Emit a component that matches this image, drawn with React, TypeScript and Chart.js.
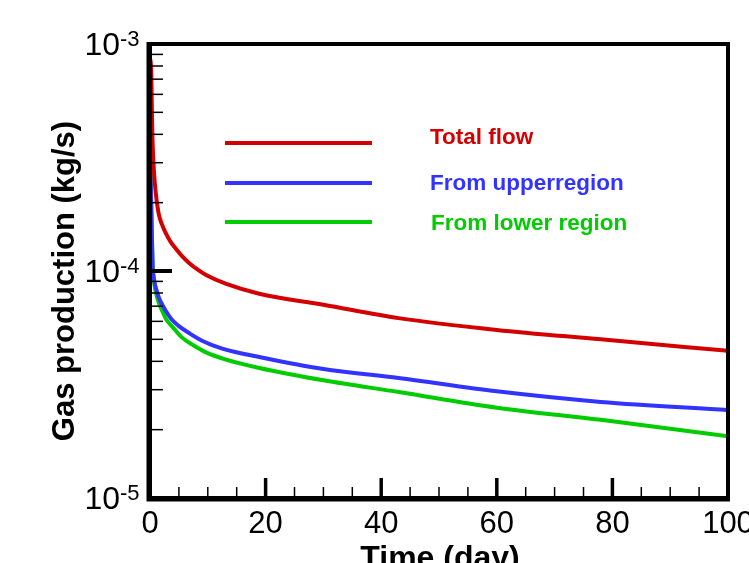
import React, { useEffect, useRef } from "react";
import { Chart, registerables } from "chart.js";

Chart.register(...registerables);

// Time (day) and gas production (kg/s)
const totalT = [0, 0.17, 0.43, 0.7, 1.04, 1.3, 1.56, 2.0, 2.77, 3.6, 4.5, 5.5, 6.76, 8.2, 9.7, 13.2, 18.9, 30, 43, 60, 78, 100];
const totalFlow = [8.6e-4, 8.08e-4, 3.78e-4, 2.7e-4, 2.16e-4, 1.92e-4, 1.76e-4, 1.62e-4, 1.46e-4, 1.34e-4, 1.25e-4, 1.165e-4, 1.085e-4, 1.016e-4, 9.6e-5, 8.77e-5, 7.94e-5, 7.1e-5, 6.2e-5, 5.5e-5, 5.0e-5, 4.45e-5];

const upperT = [0, 0.15, 0.3, 0.45, 0.6, 0.8, 1.0, 1.56, 2.2, 2.77, 3.8, 5.0, 6.76, 9.0, 12.5, 18.9, 30, 43, 60, 78, 100];
const upperFlow = [3.7e-4, 2.3e-4, 1.5e-4, 1.07e-4, 9.6e-5, 8.9e-5, 8.45e-5, 7.6e-5, 7.05e-5, 6.65e-5, 6.1e-5, 5.72e-5, 5.33e-5, 4.93e-5, 4.55e-5, 4.18e-5, 3.7e-5, 3.38e-5, 2.95e-5, 2.65e-5, 2.44e-5];

const lowerT = [0, 0.15, 0.3, 0.45, 0.6, 0.8, 1.04, 1.56, 2.2, 2.77, 4.0, 5.5, 7.5, 9.7, 13.0, 18.9, 30, 43, 60, 78, 100];
const lowerFlow = [3.7e-4, 2.3e-4, 1.5e-4, 1.04e-4, 9.3e-5, 8.6e-5, 8.0e-5, 7.2e-5, 6.6e-5, 6.15e-5, 5.63e-5, 5.1e-5, 4.71e-5, 4.38e-5, 4.08e-5, 3.74e-5, 3.3e-5, 2.93e-5, 2.5e-5, 2.21e-5, 1.87e-5];

const seriesNames = ["Total flow", "From upperregion", "From lower region"];
const seriesColors = ["rgb(212,0,0)", "rgb(51,51,255)", "rgb(0,204,0)"];

const xMajorTicks = [0, 20, 40, 60, 80, 100];
const xMinorTicks = [5, 10, 15, 25, 30, 35, 45, 50, 55, 65, 70, 75, 85, 90, 95];
const yDecadeExps = [-3, -4, -5];

const xTitle = "Time (day)";
const yTitle = "Gas production (kg/s)";

const FONT = '"Liberation Sans", Arial, sans-serif';

function toPoints(xs: number[], ys: number[]) {
  return xs.map((x, i) => ({ x, y: ys[i] }));
}

const framePlugin = {
  id: "framePlugin",
  afterDatasetsDraw(chart: any) {
    const { ctx, chartArea } = chart;
    const xs = chart.scales.x;
    const ys = chart.scales.y;
    const { left, right, top, bottom } = chartArea;
    ctx.save();
    ctx.strokeStyle = "#000";
    ctx.fillStyle = "#000";
    ctx.lineCap = "butt";

    // minor x ticks
    ctx.lineWidth = 1.5;
    xMinorTicks.forEach((v) => {
      const px = xs.getPixelForValue(v);
      ctx.beginPath();
      ctx.moveTo(px, bottom);
      ctx.lineTo(px, bottom - 11);
      ctx.stroke();
    });
    // major x ticks
    ctx.lineWidth = 3.5;
    xMajorTicks.forEach((v) => {
      const px = xs.getPixelForValue(v);
      ctx.beginPath();
      ctx.moveTo(px, bottom);
      ctx.lineTo(px, bottom - 20);
      ctx.stroke();
    });
    // minor y ticks
    ctx.lineWidth = 1.5;
    for (let e = -5; e < -3; e++) {
      for (let m = 2; m <= 9; m++) {
        const py = ys.getPixelForValue(m * Math.pow(10, e));
        ctx.beginPath();
        ctx.moveTo(left, py);
        ctx.lineTo(left + 13, py);
        ctx.stroke();
      }
    }
    // major y ticks
    ctx.lineWidth = 4;
    yDecadeExps.forEach((e) => {
      const py = ys.getPixelForValue(Math.pow(10, e));
      ctx.beginPath();
      ctx.moveTo(left, py);
      ctx.lineTo(left + 22, py);
      ctx.stroke();
    });

    // frame
    ctx.lineWidth = 4;
    ctx.strokeRect(left, top, right - left, bottom - top);
    ctx.lineWidth = 5;
    ctx.beginPath();
    ctx.moveTo(left - 1, top - 2);
    ctx.lineTo(left - 1, bottom + 1);
    ctx.lineTo(right + 2, bottom + 1);
    ctx.stroke();

    // x tick labels
    ctx.font = `31px ${FONT}`;
    ctx.textAlign = "center";
    ctx.textBaseline = "alphabetic";
    xMajorTicks.forEach((v) => {
      ctx.fillText(String(v), xs.getPixelForValue(v), bottom + 35);
    });

    // y tick labels 10^e
    yDecadeExps.forEach((e) => {
      const py = ys.getPixelForValue(Math.pow(10, e));
      ctx.font = `32px ${FONT}`;
      ctx.textAlign = "right";
      ctx.fillText("10", 120, py + 11);
      ctx.font = `22px ${FONT}`;
      ctx.textAlign = "left";
      ctx.fillText(String(e), 120, py + 2);
    });

    // axis titles
    ctx.font = `bold 32px ${FONT}`;
    ctx.textAlign = "center";
    ctx.fillText(xTitle, 440, 568);
    ctx.font = `bold 31px ${FONT}`;
    ctx.save();
    ctx.translate(74, 281);
    ctx.rotate(-Math.PI / 2);
    ctx.fillText(yTitle, 0, 0);
    ctx.restore();

    // legend
    const lineY = [143, 183, 222];
    const textBase = [144, 190, 230];
    const textX = [430, 430, 431];
    seriesNames.forEach((name, i) => {
      ctx.strokeStyle = seriesColors[i];
      ctx.lineWidth = 4;
      ctx.beginPath();
      ctx.moveTo(225, lineY[i]);
      ctx.lineTo(372, lineY[i]);
      ctx.stroke();
      ctx.fillStyle = seriesColors[i];
      ctx.font = `bold 22.5px ${FONT}`;
      ctx.textAlign = "left";
      ctx.textBaseline = "alphabetic";
      ctx.fillText(name, textX[i], textBase[i]);
    });

    ctx.restore();
  },
};

export default function App() {
  const canvasRef = useRef<HTMLCanvasElement | null>(null);

  useEffect(() => {
    const canvas = canvasRef.current;
    if (!canvas) return;
    const chart = new Chart(canvas, {
      type: "line",
      data: {
        datasets: [
          { label: seriesNames[0], data: toPoints(totalT, totalFlow), borderColor: seriesColors[0] },
          { label: seriesNames[1], data: toPoints(upperT, upperFlow), borderColor: seriesColors[1] },
          { label: seriesNames[2], data: toPoints(lowerT, lowerFlow), borderColor: seriesColors[2] },
        ].map((d) => ({
          ...d,
          borderWidth: 4,
          pointRadius: 0,
          fill: false,
          cubicInterpolationMode: "monotone" as const,
        })),
      },
      options: {
        responsive: false,
        animation: false,
        events: [],
        layout: { padding: { left: 150, top: 44, right: 21, bottom: 65 } },
        scales: {
          x: { type: "linear", min: 0, max: 100, display: false },
          y: { type: "logarithmic", min: 1e-5, max: 1e-3, display: false },
        },
        plugins: { legend: { display: false }, tooltip: { enabled: false } },
      },
      plugins: [framePlugin],
    });
    return () => chart.destroy();
  }, []);

  return (
    <div style={{ position: "absolute", left: 0, top: 0, width: 749, height: 563, background: "#fff", overflow: "hidden" }}>
      <canvas ref={canvasRef} width={749} height={563} style={{ width: 749, height: 563, display: "block" }} />
    </div>
  );
}
